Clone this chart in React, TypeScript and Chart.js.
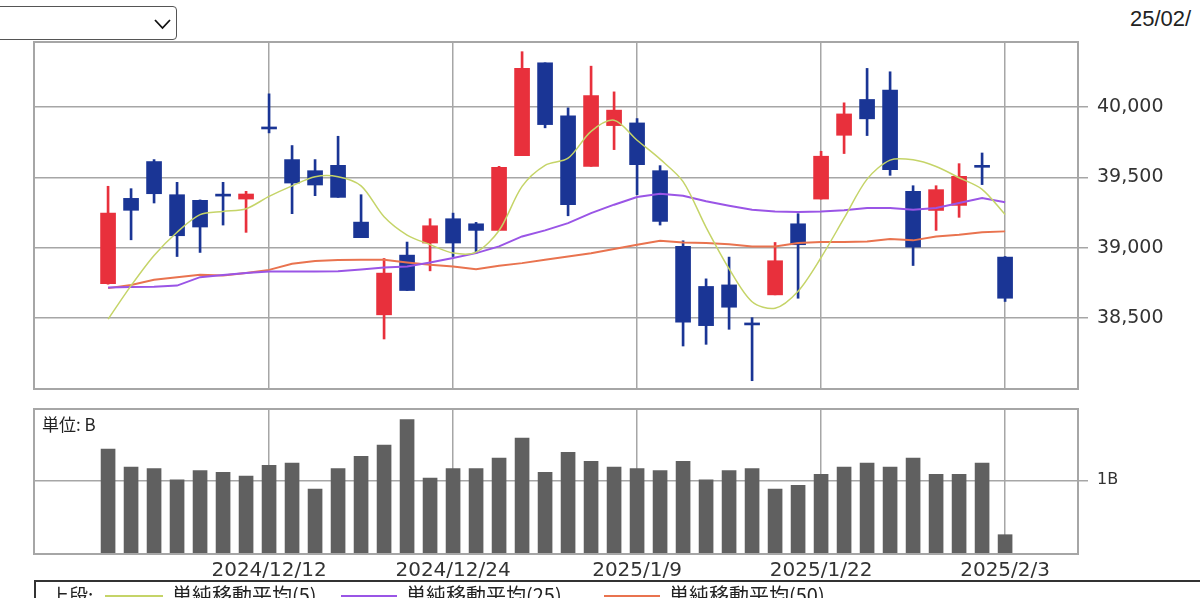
import React, { useEffect, useRef } from "react";
import { Chart, registerables } from "chart.js";

Chart.register(...registerables);

// ---------- data ----------
const dates = [
  "2024/12/3", "2024/12/4", "2024/12/5", "2024/12/6", "2024/12/9", "2024/12/10", "2024/12/11", "2024/12/12",
  "2024/12/13", "2024/12/16", "2024/12/17", "2024/12/18", "2024/12/19", "2024/12/20", "2024/12/23", "2024/12/24",
  "2024/12/25", "2024/12/26", "2024/12/27", "2024/12/30", "2025/1/6", "2025/1/7", "2025/1/8", "2025/1/9",
  "2025/1/10", "2025/1/14", "2025/1/15", "2025/1/16", "2025/1/17", "2025/1/20", "2025/1/21", "2025/1/22",
  "2025/1/23", "2025/1/24", "2025/1/27", "2025/1/28", "2025/1/29", "2025/1/30", "2025/1/31", "2025/2/3",
];
const opens = [
  38743, 39351, 39613, 39377, 39337, 39378, 39346, 39856, 39627, 39548, 39586, 39182, 38522, 38947, 39033, 39206,
  39170, 39123, 39655, 40316, 39938, 39579, 39869, 39888, 39548, 39009, 38724, 38735, 38460, 38664, 39170, 39346,
  39800, 40055, 40121, 39401, 39265, 39301, 39582, 38933,
];
const highs = [
  39437, 39420, 39627, 39465, 39340, 39465, 39401, 40095, 39727, 39627, 39793, 39377, 38923, 39040, 39206, 39246,
  39180, 39579, 40395, 40316, 39995, 40292, 40109, 39919, 39584, 39049, 38778, 38933, 38502, 39037, 39242, 39686,
  40031, 40276, 40252, 39441, 39441, 39598, 39674, 38937,
];
const lows = [
  38740, 39056, 39318, 38937, 38966, 39161, 39109, 39817, 39242, 39370, 39358, 39071, 38350, 38695, 38835, 38937,
  38961, 39123, 39655, 39853, 39227, 39579, 39698, 39377, 39161, 38300, 38312, 38419, 38053, 38664, 38640, 39346,
  39670, 39798, 39515, 38873, 39123, 39216, 39449, 38617,
];
const closes = [
  39246, 39266, 39384, 39085, 39147, 39367, 39382, 39845, 39460, 39446, 39358, 39071, 38819, 38695, 39156, 39033,
  39123, 39572, 40276, 39876, 39306, 40083, 39979, 39591, 39187, 38469, 38445, 38576, 38450, 38907, 39021, 39651,
  39952, 39917, 39556, 39004, 39413, 39508, 39572, 38640,
];
const ma5 = [
  38491, 38730, 38945, 39110, 39235, 39258, 39277, 39365, 39440, 39505, 39505, 39440, 39220, 39090, 39022, 38962,
  38968, 39122, 39436, 39586, 39637, 39828, 39907, 39765, 39630, 39470, 39145, 38850, 38615, 38569, 38690, 38930,
  39210, 39488, 39623, 39625, 39578, 39498, 39415, 39236,
];
const ma25 = [
  38716, 38720, 38722, 38730, 38790, 38805, 38820, 38830, 38830, 38830, 38832, 38845, 38858, 38866, 38895, 38926,
  38961, 39009, 39080, 39123, 39175, 39246, 39306, 39361, 39384, 39370, 39330, 39299, 39270, 39258, 39254, 39258,
  39266, 39282, 39282, 39270, 39282, 39318, 39353, 39323,
];
const ma50 = [
  38712, 38735, 38772, 38790, 38807, 38802, 38819, 38842, 38885, 38905, 38912, 38914, 38914, 38895, 38878, 38866,
  38847, 38871, 38890, 38914, 38937, 38961, 38990, 39021, 39049, 39037, 39033, 39025, 39009, 39009, 39033, 39040,
  39040, 39044, 39061, 39052, 39080, 39092, 39109, 39116,
];
const volumes = [
  1.425, 1.181, 1.158, 1.005, 1.131, 1.109, 1.059, 1.204, 1.235, 0.882, 1.158, 1.326, 1.48, 1.824, 1.032, 1.158,
  1.158, 1.303, 1.575, 1.109, 1.38, 1.258, 1.181, 1.158, 1.131, 1.258, 1.005, 1.131, 1.158, 0.882, 0.932, 1.081,
  1.181, 1.235, 1.181, 1.303, 1.081, 1.081, 1.235, 0.262,
];
const xTickLabels = ["2024/12/12", "2024/12/24", "2025/1/9", "2025/1/22", "2025/2/3"];
const priceTicks = [38500, 39000, 39500, 40000];
const volumeTicks = [1];
const seriesNames = ["単純移動平均(5)", "単純移動平均(25)", "単純移動平均(50)"];
const legendTitle = "上段:";
const unitLabel = "単位: B";
const headerText = "25/02/";

// ---------- styles ----------
const RED = "#e8303c";
const BLUE = "#1a3595";
const MA5_COLOR = "#c5d468";
const MA25_COLOR = "#9a55e6";
const MA50_COLOR = "#e9734f";
const GRID = "#a6a6a6";
const VOL_COLOR = "#606060";
const PRICE_MIN = 37994;
const PRICE_MAX = 40464;
const VOL_MAX = 1.968;
const X_MIN = -3.22;
const X_MAX = 42.17;

const tickIdx = xTickLabels.map((l) => dates.indexOf(l));

const framePlugin = {
  id: "frame",
  afterDraw(chart: any) {
    const { ctx, chartArea } = chart;
    ctx.save();
    ctx.strokeStyle = GRID;
    ctx.lineWidth = 2;
    ctx.strokeRect(chartArea.left, chartArea.top, chartArea.right - chartArea.left, chartArea.bottom - chartArea.top);
    const label = chart.options.plugins?.frame?.label;
    if (label) {
      ctx.fillStyle = "#222";
      ctx.font = '17px "Noto Sans CJK JP"';
      ctx.textBaseline = "top";
      ctx.fillText(label, chartArea.left + 8, chartArea.top + 7);
    }
    ctx.restore();
  },
};

const xScaleBase = (showLabels: boolean) => ({
  type: "linear",
  min: X_MIN,
  max: X_MAX,
  offset: false,
  grid: { color: GRID, lineWidth: 1.5, drawTicks: false, offset: false },
  border: { display: false },
  ticks: showLabels
    ? {
        color: "#333",
        padding: 5,
        maxRotation: 0,
        autoSkip: false,
        font: { family: "DejaVu Sans", size: 20 },
        callback: (v: any) => dates[Math.round(Number(v))] ?? "",
      }
    : { display: false },
  afterBuildTicks: (s: any) => {
    s.ticks = tickIdx.map((v) => ({ value: v }));
  },
  afterFit: (s: any) => {
    s.height = showLabels ? 30 : 0;
  },
});

function PriceChart() {
  const ref = useRef<HTMLCanvasElement>(null);
  useEffect(() => {
    const candleColors = opens.map((o, i) => (closes[i] >= o ? RED : BLUE));
    const chart = new Chart(ref.current as HTMLCanvasElement, {
      type: "bar",
      data: {
        datasets: [
          {
            type: "line",
            label: seriesNames[0],
            data: ma5.map((v, i) => ({ x: i, y: v })),
            borderColor: MA5_COLOR,
            borderWidth: 1.5,
            pointRadius: 0,
            tension: 0.3,
            fill: false,
          } as any,
          {
            type: "line",
            label: seriesNames[1],
            data: ma25.map((v, i) => ({ x: i, y: v })),
            borderColor: MA25_COLOR,
            borderWidth: 2,
            pointRadius: 0,
            tension: 0,
            fill: false,
          },
          {
            type: "line",
            label: seriesNames[2],
            data: ma50.map((v, i) => ({ x: i, y: v })),
            borderColor: MA50_COLOR,
            borderWidth: 2,
            pointRadius: 0,
            tension: 0,
            fill: false,
          },
          {
            type: "bar",
            label: "body",
            data: opens.map((o, i) => ({ x: i, y: [o, closes[i]] })),
            backgroundColor: candleColors,
            barThickness: 15,
            minBarLength: 2,
            grouped: false,
            borderWidth: 0,
          } as any,
          {
            type: "bar",
            label: "wick",
            data: lows.map((l, i) => ({ x: i, y: [l, highs[i]] })),
            backgroundColor: candleColors,
            barThickness: 2,
            grouped: false,
            borderWidth: 0,
          } as any,
        ],
      },
      options: {
        responsive: false,
        animation: false,
        events: [],
        layout: { padding: { left: 34, top: 42, right: 0, bottom: 21 } },
        plugins: { legend: { display: false }, tooltip: { enabled: false }, frame: {} } as any,
        scales: {
          x: xScaleBase(false),
          y: {
            position: "right",
            min: PRICE_MIN,
            max: PRICE_MAX,
            grid: { color: GRID, lineWidth: 1.5, tickLength: 10, drawTicks: true },
            border: { display: false },
            ticks: {
              color: "#333",
              padding: 9,
              font: { family: "DejaVu Sans", size: 19 },
              callback: (v: any) => Number(v).toLocaleString("en-US"),
            },
            afterBuildTicks: (s: any) => {
              s.ticks = priceTicks.map((v) => ({ value: v }));
            },
            afterFit: (s: any) => {
              s.width = 122;
            },
          },
        },
      } as any,
      plugins: [framePlugin],
    });
    return () => chart.destroy();
  }, []);
  return (
    <canvas
      ref={ref}
      width={1200}
      height={410}
      style={{ position: "absolute", left: 0, top: 0, width: 1200, height: 410, display: "block" }}
    />
  );
}

function VolumeChart() {
  const ref = useRef<HTMLCanvasElement>(null);
  useEffect(() => {
    const chart = new Chart(ref.current as HTMLCanvasElement, {
      type: "bar",
      data: {
        datasets: [
          {
            label: "volume",
            data: volumes.map((v, i) => ({ x: i, y: v })),
            backgroundColor: VOL_COLOR,
            barThickness: 14,
            borderWidth: 0,
          },
        ],
      },
      options: {
        responsive: false,
        animation: false,
        events: [],
        layout: { padding: { left: 34, top: 19, right: 0, bottom: 14 } },
        plugins: { legend: { display: false }, tooltip: { enabled: false }, frame: { label: unitLabel } } as any,
        scales: {
          x: xScaleBase(true),
          y: {
            position: "right",
            min: 0,
            max: VOL_MAX,
            grid: { color: GRID, lineWidth: 1.5, tickLength: 10, drawTicks: true },
            border: { display: false },
            ticks: {
              color: "#333",
              padding: 9,
              font: { family: "DejaVu Sans", size: 16 },
              callback: (v: any) => `${v}B`,
            },
            afterBuildTicks: (s: any) => {
              s.ticks = volumeTicks.map((v) => ({ value: v }));
            },
            afterFit: (s: any) => {
              s.width = 122;
            },
          },
        },
      } as any,
      plugins: [framePlugin],
    });
    return () => chart.destroy();
  }, []);
  return (
    <canvas
      ref={ref}
      width={1200}
      height={208}
      style={{ position: "absolute", left: 0, top: 390, width: 1200, height: 208, display: "block" }}
    />
  );
}

const legendLines = [
  { color: MA5_COLOR, lineX: 105, lineW: 58, textX: 172 },
  { color: MA25_COLOR, lineX: 341, lineW: 56, textX: 406 },
  { color: MA50_COLOR, lineX: 604, lineW: 56, textX: 669 },
];

export default function App() {
  return (
    <div
      style={{
        position: "fixed",
        left: 0,
        top: 0,
        width: 1200,
        height: 598,
        overflow: "hidden",
        background: "#fff",
        fontFamily: '"Noto Sans CJK JP", "Noto Sans", sans-serif',
      }}
    >
      {/* select box */}
      <div
        style={{
          position: "absolute",
          left: -30,
          top: 6,
          width: 205,
          height: 32,
          border: "1px solid #555",
          borderRadius: 4,
          background: "#fff",
        }}
      >
        <svg width="20" height="14" style={{ position: "absolute", left: 182, top: 11 }}>
          <polyline points="2,2 9.5,10 17,2" fill="none" stroke="#111" strokeWidth="1.8" />
        </svg>
      </div>
      <div
        style={{
          position: "absolute",
          left: 1130,
          top: 6,
          fontFamily: '"Liberation Sans", Arial, sans-serif',
          fontSize: 22,
          lineHeight: "26px",
          color: "#222",
          whiteSpace: "nowrap",
        }}
      >
        {headerText}
      </div>
      <PriceChart />
      <VolumeChart />
      {/* legend */}
      <div
        style={{
          position: "absolute",
          left: 34,
          top: 580,
          width: 1200,
          height: 60,
          border: "2px solid #333",
          boxSizing: "border-box",
        }}
      />
      <div
        style={{
          position: "absolute",
          left: 50,
          top: 585,
          fontSize: 19,
          lineHeight: "20px",
          color: "#222",
          whiteSpace: "nowrap",
        }}
      >
        {legendTitle}
      </div>
      {legendLines.map((l, i) => (
        <React.Fragment key={i}>
          <div
            style={{
              position: "absolute",
              left: l.lineX,
              top: 595,
              width: l.lineW,
              height: 2,
              background: l.color,
            }}
          />
          <div
            style={{
              position: "absolute",
              left: l.textX,
              top: 585,
              fontSize: 20,
              lineHeight: "20px",
              color: "#222",
              whiteSpace: "nowrap",
            }}
          >
            {seriesNames[i]}
          </div>
        </React.Fragment>
      ))}
    </div>
  );
}
